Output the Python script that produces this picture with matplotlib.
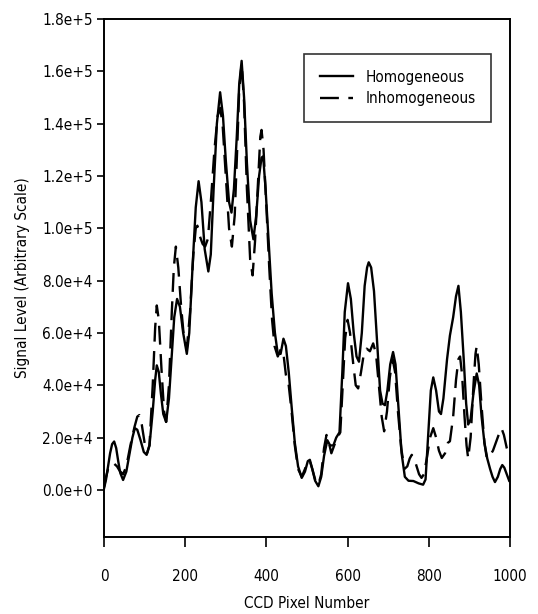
import matplotlib
matplotlib.use("Agg")
import matplotlib.pyplot as plt
import numpy as np

plt.rcParams['font.family'] = ['DejaVu Sans']
plt.rcParams['font.stretch'] = 'condensed'

# Homogeneous (solid) : pixel positions and signal values (x1000)
hom_x = [0, 5, 10, 15, 20, 25, 30, 35, 40, 47, 55, 62, 70, 76, 82, 90, 98, 105, 112, 120,
         126, 130, 135, 140, 146, 153, 160, 167, 173, 180, 187, 195, 204, 210, 218, 226, 233, 240,
         248, 257, 263, 270, 278, 286, 293, 300, 308, 314, 320, 327, 333, 339, 345, 352, 360, 368,
         375, 382, 388, 392, 398, 405, 413, 421, 428, 435, 442, 448, 455, 462, 470, 478, 487, 495,
         502, 507, 513, 520, 528, 535, 542, 550, 557, 565, 572, 580, 587, 593, 601, 608, 615, 622,
         628, 635, 642, 648, 652, 658, 665, 672, 680, 686, 692, 698, 705, 712, 718, 725, 733, 741,
         750, 762, 775, 786, 792, 798, 805, 811, 818, 825, 830, 836, 845, 852, 860, 867, 873, 879,
         886, 892, 897, 903, 910, 918, 924, 930, 937, 944, 951, 957, 963, 970, 976, 981, 986, 992,
         998]
hom_y = [0.5, 4, 9, 14, 17.5, 18.5, 16, 11, 6.5, 3.8, 7, 13, 20, 23.6, 23, 19, 14.5, 13.4, 17, 30,
         42, 47.6, 45, 37, 29, 26, 35, 52, 66, 73, 70, 60, 52, 60, 85, 108, 118, 110,
         92, 83.5, 90, 115, 140, 152, 143, 126, 110, 106, 115, 135, 155, 164, 150, 125, 103, 95.8,
         105, 120, 127, 127.5, 115, 96, 75, 60, 52, 52, 57.8, 55, 45, 32, 18, 9, 4.6, 7,
         11, 11.5, 8, 3.5, 1.4, 5, 13, 19, 17, 17, 20, 22, 45, 68, 79, 73, 60, 51,
         49, 60, 78, 85, 87, 85, 76, 58, 38, 33, 32.4, 38, 48, 52.7, 48, 32, 14, 5,
         3.5, 3.4, 2.5, 2, 4, 20, 38, 43, 38, 30, 29, 35, 50, 59, 66, 74, 78, 68,
         50, 33, 25, 27, 37, 44.5, 40, 28, 18, 12, 8, 5, 3, 5, 8, 9.5, 8.5, 6,
         3.5]

# Inhomogeneous (dashed)
inh_x = [0, 5, 10, 17, 25, 32, 39, 47, 55, 65, 75, 82, 87, 93, 100, 106, 112, 120, 126, 130,
         135, 142, 148, 153, 160, 167, 172, 177, 183, 190, 197, 204, 212, 220, 226, 230, 236, 243,
         249, 256, 264, 272, 280, 286, 292, 300, 308, 315, 322, 328, 333, 339, 345, 352, 360, 366,
         372, 380, 385, 388, 393, 400, 407, 414, 420, 428, 436, 442, 448, 455, 462, 470, 478, 487,
         495, 502, 507, 513, 520, 528, 535, 542, 548, 554, 560, 567, 575, 582, 588, 594, 600, 606,
         614, 620, 626, 633, 640, 647, 655, 663, 670, 677, 684, 690, 697, 704, 711, 717, 724, 732,
         740, 747, 753, 758, 764, 770, 776, 782, 788, 795, 803, 811, 818, 825, 832, 840, 847, 852,
         860, 867, 873, 877, 882, 888, 893, 897, 903, 910, 915, 918, 923, 930, 937, 943, 950, 958,
         965, 972, 979, 985, 992, 998]
inh_y = [1, 5, 8, 10, 10, 9, 7.2, 6, 9, 17, 24, 28, 28.6, 25, 18, 14, 17, 40, 62, 70.5,
         65, 45, 30, 26, 40, 68, 85, 93, 85, 70, 58, 54, 68, 90, 100, 101, 97, 94,
         93, 96, 112, 130, 143, 146, 140, 120, 100, 93, 105, 130, 153, 163, 148, 115, 88, 82,
         95, 120, 135, 137.6, 130, 108, 85, 65, 55, 51, 54, 52, 44, 40, 30, 17, 8, 5,
         8, 11, 11, 8, 4, 2, 6, 16, 21, 18, 14, 17, 20, 22, 40, 58, 65, 60,
         48, 40, 38.8, 45, 52, 54, 53, 56, 52, 40, 28, 22.4, 30, 43, 50, 45, 30, 16,
         8, 9, 12, 13.4, 12, 9, 6, 4.6, 6, 12, 20, 23.6, 20, 15, 12.2, 14, 18, 18.6,
         28, 42, 50, 51, 44, 28, 17, 12, 20, 40, 52, 55, 48, 32, 18, 12, 13, 15,
         18, 21, 23.6, 21, 16, 13.4]

x_ticks = [0, 200, 400, 600, 800, 1000]
y_ticks = [0, 20000, 40000, 60000, 80000, 100000, 120000, 140000, 160000, 180000]
y_tick_labels = ["0.0e+0", "2.0e+4", "4.0e+4", "6.0e+4", "8.0e+4", "1.0e+5",
                 "1.2e+5", "1.4e+5", "1.6e+5", "1.8e+5"]

fig = plt.figure(figsize=(5.38, 6.14), dpi=100)
ax = fig.add_axes([104/538, 1-537/614, 406/538, 518/614])

ax.plot(hom_x, np.array(hom_y)*1000, color='black', lw=1.7, label='Homogeneous')
ax.plot(inh_x, np.array(inh_y)*1000, color='black', lw=1.7, dashes=(8, 4), label='Inhomogeneous')

ax.set_xlim(0, 1000)
ax.set_ylim(-18000, 180000)
ax.set_xticks(x_ticks)
ax.set_xticklabels([str(t) for t in x_ticks], fontsize=11)
ax.set_yticks(y_ticks)
ax.set_yticklabels(y_tick_labels, fontsize=11)
ax.tick_params(axis='x', direction='out', length=7, width=1.2, top=False, pad=16)
ax.tick_params(axis='y', direction='out', length=5, width=1.2, right=False, pad=3)
for s in ax.spines.values():
    s.set_linewidth(1.4)

ax.set_xlabel('CCD Pixel Number', fontsize=11, labelpad=9)
ax.set_ylabel('Signal Level (Arbitrary Scale)', fontsize=11, labelpad=9)

leg = ax.legend(loc='upper right', bbox_to_anchor=(0.953, 0.932), fontsize=11,
                frameon=True, fancybox=False, handlelength=2.2, borderpad=1.0,
                labelspacing=0.45, handletextpad=0.8, borderaxespad=0)
leg.get_frame().set_edgecolor('black')
leg.get_frame().set_linewidth(1.2)

fig.savefig('out.png', dpi=100)
